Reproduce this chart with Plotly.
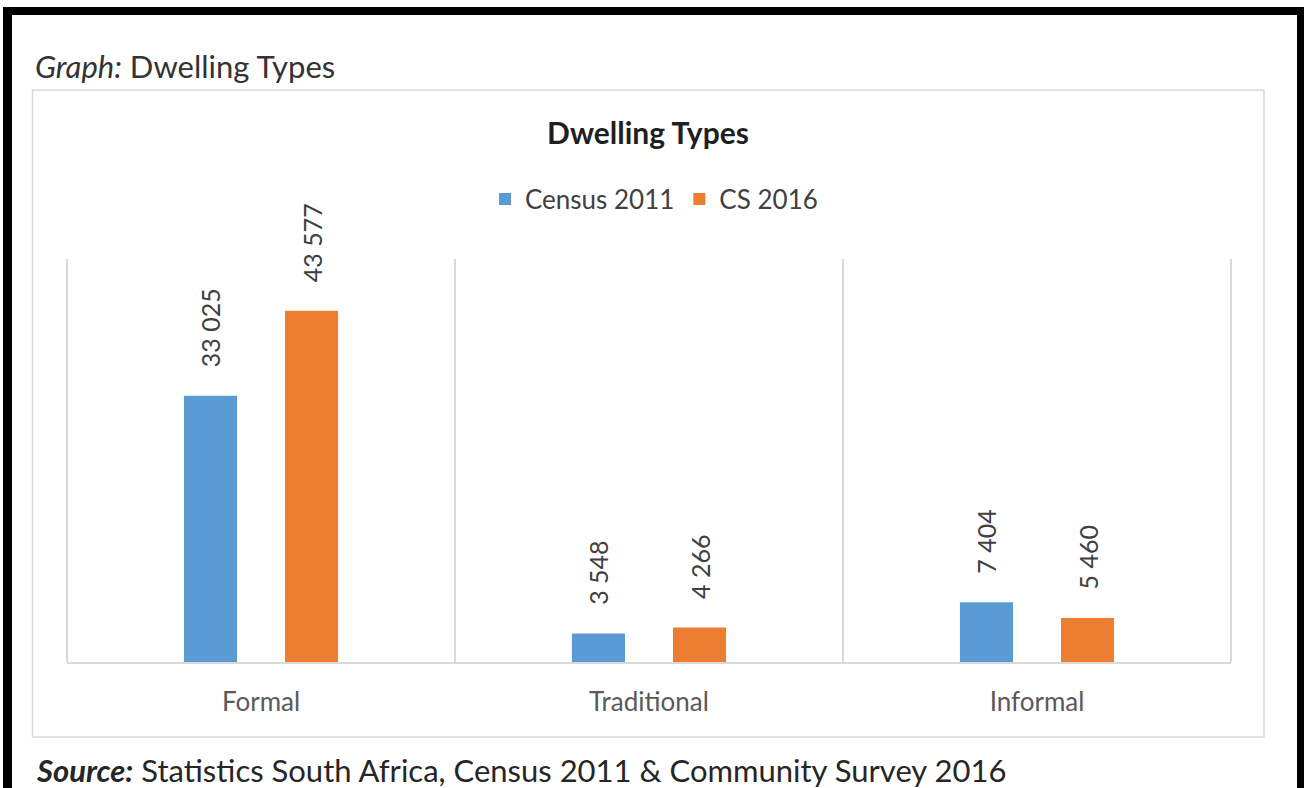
import plotly.graph_objects as go

categories = ["Formal", "Traditional", "Informal"]
census_2011 = [33025, 3548, 7404]
cs_2016 = [43577, 4266, 5460]
series_names = ["Census 2011", "CS 2016"]

W, H = 1304, 788
FONT = "Lato"

def px_x(v):
    return v / W

def px_y(v):
    return 1 - v / H

def fmt(v):
    return f"{v:,}".replace(",", " ")

pad = "\u00a0" * 4

fig = go.Figure()
for name, vals, color in [(series_names[0], census_2011, "#5B9BD5"),
                          (series_names[1], cs_2016, "#ED7D31")]:
    fig.add_trace(go.Bar(
        x=categories, y=vals, name=name,
        marker=dict(color=color, line=dict(width=0)),
        text=[pad + fmt(v) for v in vals],
        textposition="outside", textangle=-90,
        constraintext="none", cliponaxis=False,
        textfont=dict(family=FONT, size=25, color="#404040"),
        hoverinfo="skip",
    ))

shapes = []
# thick black frame (left, top, right)
shapes.append(dict(type="rect", xref="paper", yref="paper", x0=px_x(3), x1=px_x(12),
                   y0=0, y1=px_y(7), fillcolor="black", line=dict(width=0), layer="above"))
shapes.append(dict(type="rect", xref="paper", yref="paper", x0=px_x(3), x1=px_x(1304),
                   y0=px_y(15), y1=px_y(7), fillcolor="black", line=dict(width=0), layer="above"))
shapes.append(dict(type="rect", xref="paper", yref="paper", x0=px_x(1297), x1=px_x(1304),
                   y0=0, y1=px_y(7), fillcolor="black", line=dict(width=0), layer="above"))
# chart area box
shapes.append(dict(type="rect", xref="paper", yref="paper", x0=px_x(32.5), x1=px_x(1264),
                   y0=px_y(737), y1=px_y(90), line=dict(color="#d9d9d9", width=1.5), layer="below"))
# category separators
for f in [0, 1 / 3, 2 / 3, 1]:
    shapes.append(dict(type="line", xref="x domain", yref="y domain", x0=f, x1=f, y0=0, y1=1,
                       line=dict(color="#d9d9d9", width=2), layer="below"))

fig.update_layout(
    width=W, height=H,
    margin=dict(l=0, r=0, t=0, b=0),
    paper_bgcolor="white", plot_bgcolor="white",
    barmode="group", bargap=0.479, bargroupgap=0.475,
    title=dict(text="<b>Dwelling Types</b>", x=648 / W, xanchor="center",
               y=px_y(133), yanchor="middle",
               font=dict(family=FONT, size=30, color="#1f1f1f")),
    legend=dict(orientation="h", x=654 / W, xanchor="center", y=px_y(199), yanchor="middle",
                font=dict(family=FONT, size=26, color="#404040"),
                bgcolor="rgba(0,0,0,0)", itemsizing="constant"),
    xaxis=dict(domain=[px_x(67), px_x(1231)], showgrid=False, zeroline=False,
               showline=True, linecolor="#d9d9d9", linewidth=2, ticks="",
               ticklabelstandoff=16,
               tickfont=dict(family=FONT, size=26, color="#595959"), fixedrange=True),
    yaxis=dict(domain=[px_y(662), px_y(259)], range=[0, 50000], visible=False, fixedrange=True),
    shapes=shapes,
    annotations=[
        dict(text="<i>Graph:</i> Dwelling Types", xref="paper", yref="paper",
             x=px_x(33), y=px_y(66), xanchor="left", yanchor="middle", showarrow=False,
             font=dict(family=FONT, size=31, color="#333333")),
        dict(text="<b><i>Source:</i></b> Statistics South Africa, Census 2011 & Community Survey 2016",
             xref="paper", yref="paper", x=px_x(34), y=px_y(770), xanchor="left", yanchor="middle",
             showarrow=False, font=dict(family=FONT, size=31, color="#262626")),
    ],
)

fig.write_html("out.html")
